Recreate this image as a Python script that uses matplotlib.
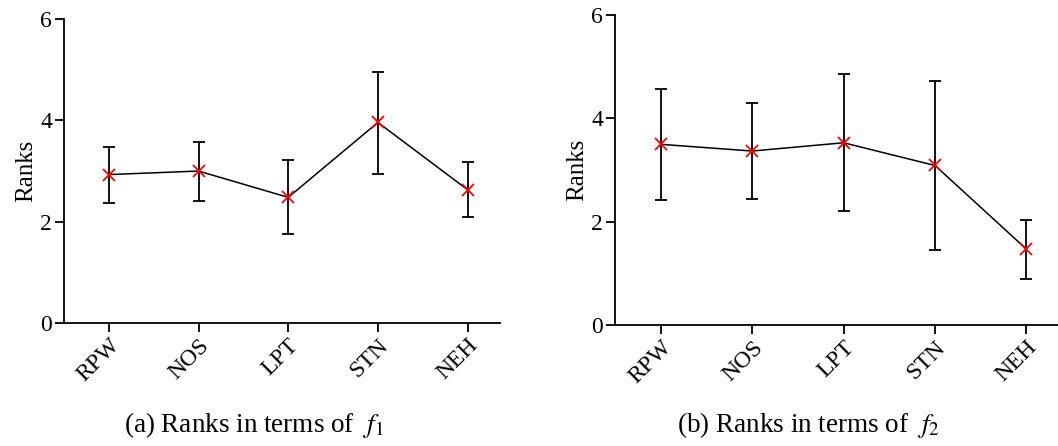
import matplotlib.pyplot as plt
import numpy as np

plt.rcParams['font.family'] = ['Liberation Serif', 'DejaVu Serif']
plt.rcParams['mathtext.fontset'] = 'stix'

methods = ["RPW", "NOS", "LPT", "STN", "NEH"]

# mean ranks with upper / lower ends of the error bars
f1_mean = [2.93, 3.00, 2.48, 3.96, 2.63]
f1_hi = [3.48, 3.58, 3.22, 4.95, 3.18]
f1_lo = [2.37, 2.41, 1.75, 2.94, 2.09]

f2_mean = [3.50, 3.37, 3.53, 3.09, 1.47]
f2_hi = [4.57, 4.30, 4.87, 4.73, 2.03]
f2_lo = [2.42, 2.45, 2.20, 1.45, 0.89]

captions = ["(a) Ranks in terms of  $f_1$", "(b) Ranks in terms of  $f_2$"]

fig = plt.figure(figsize=(10.58, 4.46), dpi=100)

ax1 = fig.add_axes([0.0605, 0.276, 0.412, 0.681])
ax2 = fig.add_axes([0.5813, 0.271, 0.42, 0.695])

data = [(f1_mean, f1_hi, f1_lo), (f2_mean, f2_hi, f2_lo)]
for ax, (m, hi, lo) in zip([ax1, ax2], data):
    x = np.arange(len(methods))
    m = np.array(m)
    err = [m - np.array(lo), np.array(hi) - m]
    ax.errorbar(x, m, yerr=err, fmt="none", ecolor="black", elinewidth=1.3,
                capsize=4, capthick=1.3)
    ax.plot(x, m, color="black", lw=1.1)
    ax.plot(x, m, "x", color="red", ms=9, mew=1.3, zorder=5)
    ax.set_ylim(0, 6)
    ax.set_yticks([0, 2, 4, 6])
    ax.set_xticks(x)
    ax.set_xticklabels(methods, rotation=45, ha="right", rotation_mode="anchor")
    ax.spines["top"].set_visible(False)
    ax.spines["right"].set_visible(False)
    ax.spines["left"].set_linewidth(1.3)
    ax.spines["bottom"].set_linewidth(1.3)
    ax.tick_params(direction="out", length=6.5, width=1.3, labelsize=17, pad=2)
    ax.set_ylabel("Ranks", fontsize=18, labelpad=2)

ax1.set_xlim(-0.5, 4.36)
ax2.set_xlim(-0.5, 4.36)

# sub-figure captions
fig.text(254 / 1058, 0.031, captions[0], fontsize=19.5, ha="center", va="baseline")
fig.text(808 / 1058, 0.031, captions[1], fontsize=19.5, ha="center", va="baseline")

plt.savefig("out.png", dpi=100)
